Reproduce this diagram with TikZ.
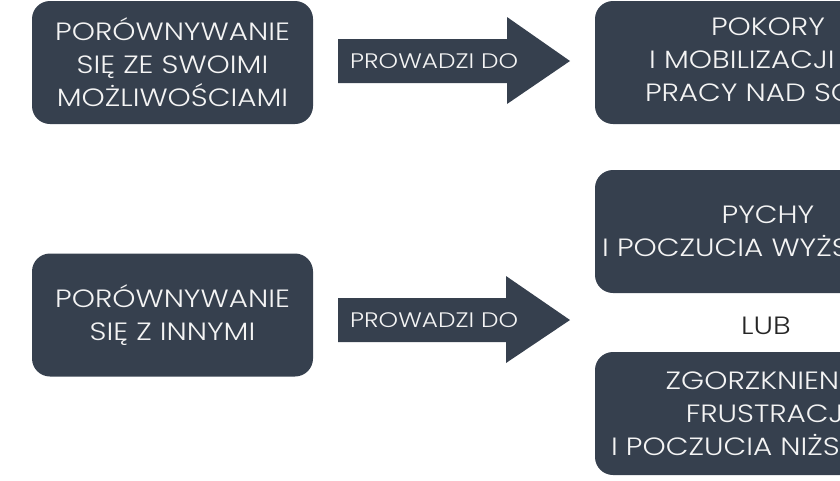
\documentclass[tikz,border=0pt]{standalone}
\usepackage{fontspec}
\setmainfont{Poppins Light}[FakeStretch=1.18]
\definecolor{slate}{HTML}{36404E}
\definecolor{txt}{HTML}{F4F4F4}
\begin{document}
\begin{tikzpicture}[x=1pt,y=-1pt,
  box/.style={fill=slate, rounded corners=18pt, minimum height=123pt, text=txt,
    font=\fontsize{25}{33}\selectfont, align=center, inner sep=0pt},
  lbl/.style={text=txt, font=\fontsize{21}{24}\selectfont, inner sep=0pt},
  arrowshape/.style={fill=slate}]
\useasboundingbox (0,0) rectangle (840,480);
\clip (0,0) rectangle (840,480);
% left boxes
\node[box, minimum width=281pt] (a1) at (172.5,62.5) {PORÓWNYWANIE\\SIĘ ZE SWOIMI\\MOŻLIWOŚCIAMI};
\node[box, minimum width=281pt] (a2) at (172.5,315) {PORÓWNYWANIE\\SIĘ Z INNYMI};
% right boxes
\node[box, minimum width=346pt] (b1) at (768,62.5) {POKORY\\I MOBILIZACJI DO\\PRACY NAD SOBĄ};
\node[box, minimum width=346pt] (b2) at (768,231.5) {PYCHY\\I POCZUCIA WYŻSZOŚCI};
\node[box, minimum width=346pt] (b3) at (768,413.5) {ZGORZKNIENIA,\\FRUSTRACJI\\I POCZUCIA NIŻSZOŚCI};
\node[font=\fontsize{25}{28}\selectfont, text=black!85, inner sep=0pt] (lub) at (766,326) {LUB};
% arrows
\fill[arrowshape] (338,39) -- (507,39) -- (507,17) -- (570,61) -- (507,104) -- (507,83) -- (338,83) -- cycle;
\node[lbl, anchor=west] (p1) at (350,61) {PROWADZI DO};
\fill[arrowshape] (338,298) -- (506,298) -- (506,276) -- (570,320) -- (506,363) -- (506,342) -- (338,342) -- cycle;
\node[lbl, anchor=west] (p2) at (350,320) {PROWADZI DO};
\end{tikzpicture}
\end{document}
